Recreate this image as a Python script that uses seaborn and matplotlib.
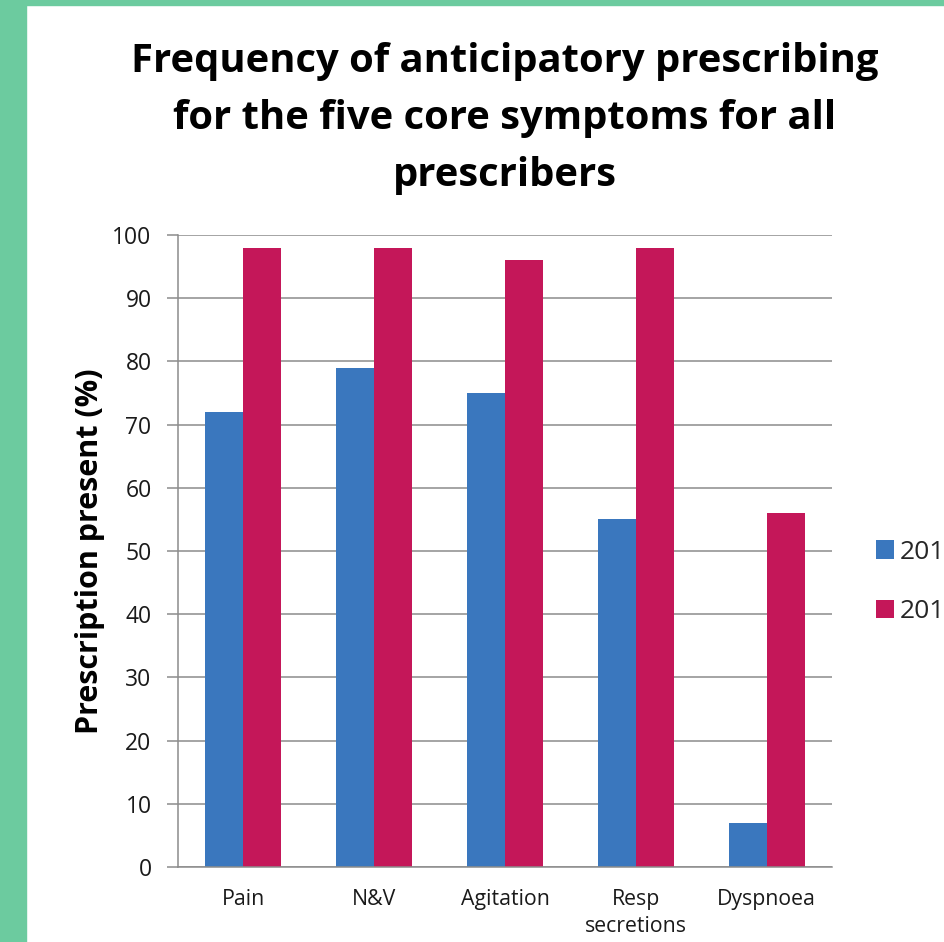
import matplotlib
matplotlib.use("Agg")
import matplotlib.pyplot as plt
import seaborn as sns
import pandas as pd
from matplotlib.patches import Rectangle

categories = ["Pain", "N&V", "Agitation", "Resp\nsecretions", "Dyspnoea"]
series_names = ["2011", "2012"]
values_first = [72, 79, 75, 55, 7]
values_second = [98, 98, 96, 98, 56]
y_ticks = [0, 10, 20, 30, 40, 50, 60, 70, 80, 90, 100]

df = pd.DataFrame({
    "Symptom": categories * 2,
    "Series": [series_names[0]] * len(categories) + [series_names[1]] * len(categories),
    "Value": values_first + values_second,
})

sns.set_theme(style="white")
plt.rcParams['font.family'] = ['Open Sans', 'DejaVu Sans']

fig = plt.figure(figsize=(9.44, 9.42), dpi=100)
fig.patch.set_facecolor("white")
green = "#6CCB9F"
fig.patches.append(Rectangle((0, 0), 26 / 944, 1, transform=fig.transFigure, color=green, zorder=0))
fig.patches.append(Rectangle((0, 1 - 5 / 942), 1, 5 / 942, transform=fig.transFigure, color=green, zorder=0))

ax = fig.add_axes([178 / 944, 75 / 942, 654 / 944, 632 / 942])
palette = {series_names[0]: "#3A77BE", series_names[1]: "#C41759"}
sns.barplot(data=df, x="Symptom", y="Value", hue="Series", palette=palette,
            width=0.58, saturation=1, ax=ax, legend=True, linewidth=0)

ax.set_ylim(0, 100)
ax.set_yticks(y_ticks)
ax.yaxis.grid(True, color="#8c8c8c", linewidth=1.1)
ax.set_axisbelow(True)
for s in ["top", "right"]:
    ax.spines[s].set_visible(False)
for s in ["left", "bottom"]:
    ax.spines[s].set_color("#8c8c8c")
    ax.spines[s].set_linewidth(1.1)
ax.tick_params(axis="y", which="both", left=True, length=8, width=1.1, color="#8c8c8c",
               labelsize=16.5, pad=11, labelcolor="#1a1a1a")
ax.tick_params(axis="x", bottom=False, labelsize=15.3, pad=10, labelcolor="#1a1a1a")
for lbl in ax.get_xticklabels():
    lbl.set_linespacing(1.35)
ax.set_xlabel("")
ax.set_ylabel("Prescription present (%)", fontsize=22, fontweight="bold", labelpad=5, color="black")
ax.set_title("Frequency of anticipatory prescribing\nfor the five core symptoms for all\nprescribers",
             fontsize=28.8, fontweight="bold", pad=35, linespacing=1.6, color="black")

leg = ax.legend(loc="center left", bbox_to_anchor=(876 / 944, (942 - 582) / 942),
                bbox_transform=fig.transFigure, frameon=False, fontsize=19,
                handlelength=0.7, handleheight=0.7, labelspacing=1.3, handletextpad=0.2,
                borderaxespad=0, borderpad=0, title=None)

fig.savefig("out.png", dpi=100)
